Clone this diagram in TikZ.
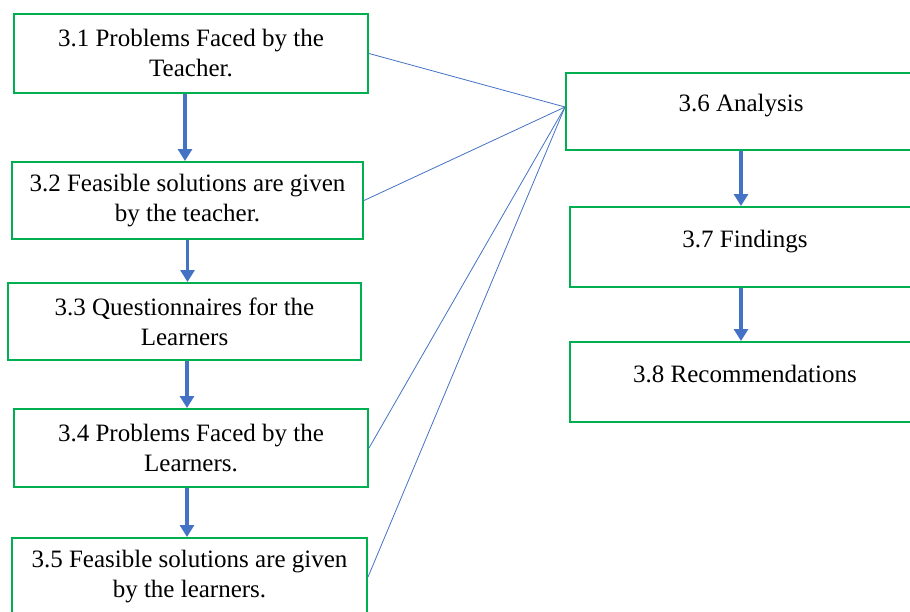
\documentclass[tikz,border=0pt]{standalone}
\usepackage{fontspec}
\setmainfont{LiberationSerif-Regular.ttf}
\usepackage{tikz}
\usetikzlibrary{arrows.meta}

\definecolor{boxgreen}{HTML}{00B050}
\definecolor{lineblue}{HTML}{4472C4}

\begin{document}
\begin{tikzpicture}[x=1pt, y=-1pt,
		box/.style={draw=boxgreen, line width=2pt, rectangle, align=center,
			font=\fontsize{25}{30}\selectfont, minimum width=352pt, minimum height=78pt},
		single/.style={box, text height=17pt, text depth=17pt},
		flow/.style={draw=lineblue, line width=3.2pt, -{Triangle[width=14pt,length=12pt]}},
		link/.style={draw=lineblue, line width=0.8pt}]
	\useasboundingbox (0,0) rectangle (910,611);
	\clip (0,0) rectangle (910,611);
	% left column
	\node[box, minimum width=354pt, minimum height=79pt] (b31) at (191,53.5) {3.1 Problems Faced by the\\Teacher.};
	\node[box, minimum width=351pt, minimum height=77pt] (b32) at (187.5,200.5) {3.2 Feasible solutions are given\\by the teacher.};
	\node[box, minimum width=353pt, minimum height=77pt] (b33) at (184.5,321.5) {3.3 Questionnaires for the\\Learners};
	\node[box, minimum width=354pt] (b34) at (191,448) {3.4 Problems Faced by the\\Learners.};
	\node[box, minimum width=355pt] (b35) at (189.5,577) {3.5 Feasible solutions are given\\by the learners.};
	% right column
	\node[single, minimum width=350pt, minimum height=77pt] (b36) at (741,111.5) {3.6 Analysis};
	\node[single, minimum width=350pt, minimum height=80pt] (b37) at (745,247) {3.7 Findings};
	\node[single, minimum width=350pt, minimum height=80pt] (b38) at (745,382) {3.8 Recommendations};
	\draw[flow] (b31.south -| 185,0) -- (b32.north -| 185,0);
	\draw[flow] (b32.south -| 187.5,0) -- (b33.north -| 187.5,0);
	\draw[flow] (b33.south -| 187,0) -- (b34.north -| 187,0);
	\draw[flow] (b34.south -| 187,0) -- (b35.north -| 187,0);
	\draw[flow] (b36.south -| 741,0) -- (b37.north -| 741,0);
	\draw[flow] (b37.south -| 741,0) -- (b38.north -| 741,0);
	% links into the analysis
	\coordinate (hub) at (565,107);
	\foreach \n in {b31,b32,b34,b35}
		\draw[link] (\n.east) -- (hub);
\end{tikzpicture}
\end{document}
